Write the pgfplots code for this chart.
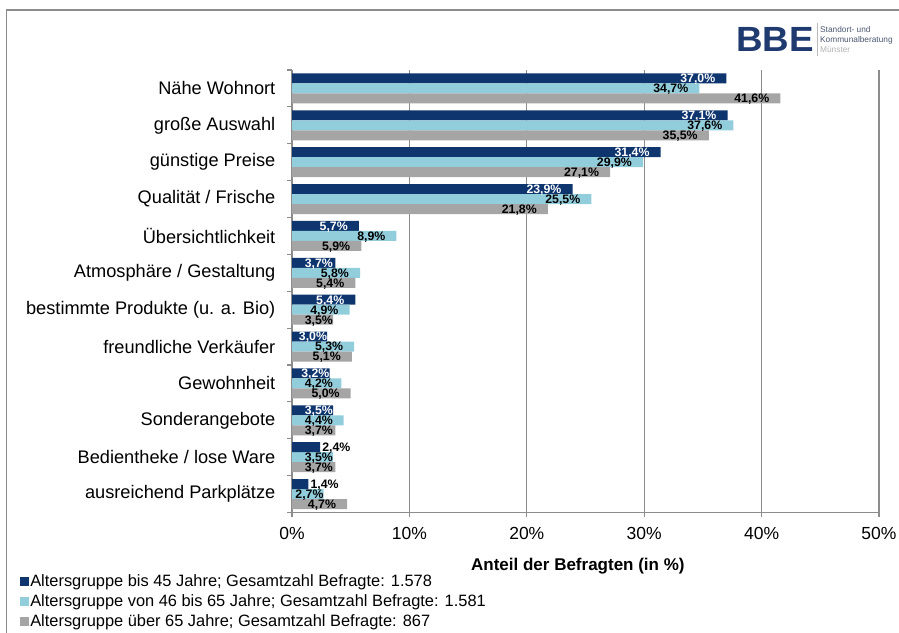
\documentclass[border=0pt]{standalone}
\usepackage{pgfplots}
\pgfplotsset{compat=1.18}
\usepackage{fontspec}
\setmainfont{Liberation Sans}
\definecolor{cdark}{HTML}{0E356E}
\definecolor{clight}{HTML}{92CDDC}
\definecolor{cgray}{HTML}{A5A5A5}
\definecolor{gline}{HTML}{8C8C8C}
\definecolor{logoblue}{HTML}{1F3A6E}
\definecolor{logotext}{HTML}{4A5670}

\pgfplotstableread{
y v
11 37.0
10 37.1
9 31.4
8 23.9
7 5.7
6 3.7
5 5.4
4 3.0
3 3.2
2 3.5
}\darkA
\pgfplotstableread{
y v
1 2.4
0 1.4
}\darkB
\pgfplotstableread{
y v
11 34.7
10 37.6
9 29.9
8 25.5
7 8.9
6 5.8
5 4.9
4 5.3
3 4.2
2 4.4
1 3.5
0 2.7
}\light
\pgfplotstableread{
y v
11 41.6
10 35.5
9 27.1
8 21.8
7 5.9
6 5.4
5 3.5
4 5.1
3 5.0
2 3.7
1 3.7
0 4.7
}\grey

\begin{document}
\begin{tikzpicture}
\useasboundingbox (0bp,0bp) rectangle (899bp,633bp);
\draw[gline, line width=1.3bp] (6.5bp,0bp) -- (6.5bp,623bp) -- (899bp,623bp);
% logo
\node[font=\fontsize{35bp}{35bp}\selectfont\bfseries, text=logoblue, inner sep=0pt, xscale=1.05] at (775bp,593.5bp) {BBE};
\draw[gline!60, line width=0.6bp] (817bp,610bp) -- (817bp,577bp);
\node[font=\fontsize{8.3bp}{10bp}\selectfont, text=logotext, anchor=west, align=left, inner sep=0pt] at (820bp,593bp) {Standort- und\\Kommunalberatung\\{\color{gray!60}Münster}};

\begin{axis}[
  at={(292bp,120.5bp)}, anchor=south west,
  scale only axis, width=587bp, height=442.5bp,
  xmin=0, xmax=50, ymin=-0.5, ymax=11.5,
  xbar, bar width=10bp,
  /pgf/number format/assume math mode=true,
  axis lines*=left,
  axis line style={-, draw=gline, line width=1.2bp},
  xmajorgrids, grid style={draw=gline, line width=1.2bp},
  tick align=outside, major tick length=4.5bp,
  tick style={draw=gline, line width=1.2bp},
  xtick={0,10,20,30,40,50},
  xticklabels={0\%,10\%,20\%,30\%,40\%,50\%},
  xticklabel style={font=\fontsize{17.5bp}{20bp}\selectfont, yshift=-7bp},
  ytick={-0.5,0.5,...,11.5},
  yticklabels={ausreichend Parkplätze, Bedientheke / lose Ware, Sonderangebote, Gewohnheit, freundliche Verkäufer, bestimmte Produkte (u. a. Bio), Atmosphäre / Gestaltung, Übersichtlichkeit, Qualität / Frische, günstige Preise, große Auswahl, Nähe Wohnort, {}},
  yticklabel style={font=\fontsize{18.2bp}{21bp}\selectfont, yshift=18.44bp, inner sep=0pt, xshift=-12bp},
  xlabel={Anteil der Befragten (in \%)},
  xlabel style={font=\fontsize{17bp}{20bp}\selectfont\bfseries, at={(axis description cs:0.487,-0.121)}, anchor=center},
  point meta=x,
  visualization depends on={rawx \as \rawx},
  nodes near coords={\pgfmathprintnumber[fixed,fixed zerofill,precision=1,use comma]{\pgfplotspointmeta}\%},
  every node near coord/.append style={font=\fontsize{12.3bp}{14bp}\selectfont\bfseries, inner sep=0pt, anchor=east, xshift={-min(11,max(0,\rawx*11.74-41))}, yshift=-1bp},
  legend style={at={(axis description cs:-0.4634,-0.137)}, anchor=north west, draw=none, fill=none,
    font=\fontsize{16.4bp}{19bp}\selectfont, row sep=3.5bp, inner sep=0pt,
    nodes={inner sep=1.5bp}},
  legend cell align=left,
  legend image code/.code={\fill[#1] (0bp,-4.3bp) rectangle (8.6bp,4.3bp);},
]
\addplot[fill=cdark, draw=none, bar shift=10bp, every node near coord/.append style={text=white}] table[x=v,y=y]{\darkA};
\addlegendentry{Altersgruppe bis 45 Jahre; Gesamtzahl Befragte: 1.578}
\addplot[fill=clight, draw=none, bar shift=0bp, every node near coord/.append style={text=black}] table[x=v,y=y]{\light};
\addlegendentry{Altersgruppe von 46 bis 65 Jahre; Gesamtzahl Befragte: 1.581}
\addplot[fill=cgray, draw=none, bar shift=-10bp, every node near coord/.append style={text=black}] table[x=v,y=y]{\grey};
\addlegendentry{Altersgruppe über 65 Jahre; Gesamtzahl Befragte: 867}
\addplot[fill=cdark, draw=none, bar shift=10bp, forget plot, every node near coord/.append style={text=black, anchor=west, xshift=2bp}] table[x=v,y=y]{\darkB};
\end{axis}
\end{tikzpicture}
\end{document}
